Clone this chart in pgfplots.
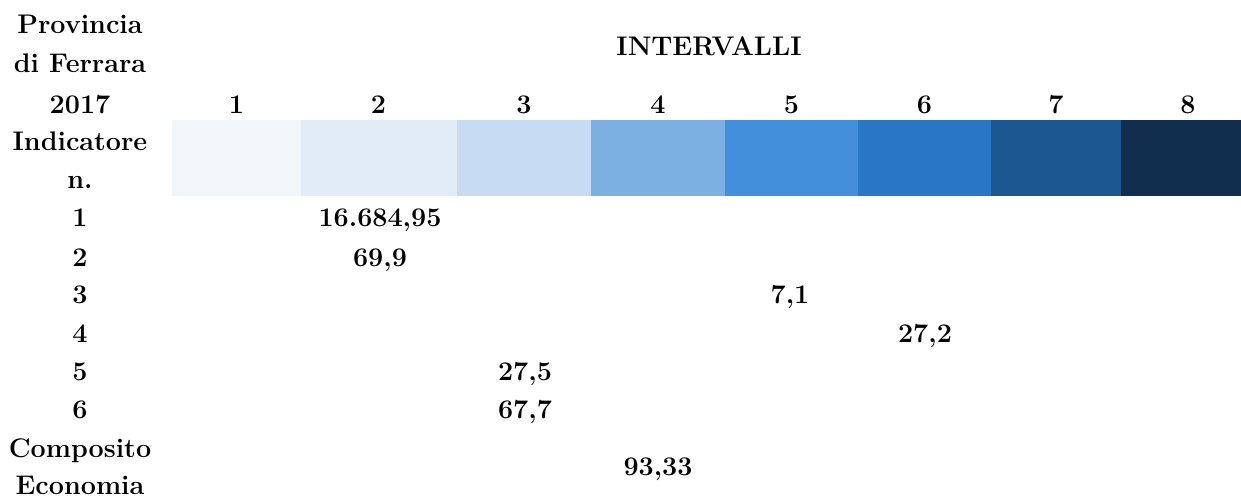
\documentclass[border=0pt]{standalone}
\usepackage{fontspec}
\usepackage{pgfplots}
\usepackage{pgfplotstable}
\pgfplotsset{compat=1.18}

\definecolor{c1}{HTML}{F1F6FB}
\definecolor{c2}{HTML}{E2ECF7}
\definecolor{c3}{HTML}{C7DCF3}
\definecolor{c4}{HTML}{7CB0E3}
\definecolor{c5}{HTML}{448FDB}
\definecolor{c6}{HTML}{2876C5}
\definecolor{c7}{HTML}{1C5791}
\definecolor{c8}{HTML}{122E4E}

% left column labels (x, baseline y, text)
\pgfplotstableread[col sep=comma]{
x,y,label
80,34,Provincia
80,73,di Ferrara
80,113,2017
80,150,Indicatore
80,188,n.
80,226,1
80,266,2
80,303,3
80,342,4
80,380,5
80,418,6
80,457,Composito
80,494,Economia
709,56,INTERVALLI
}\leftlabels

% interval numbers above the colour strip
\pgfplotstableread[col sep=comma]{
x,y,label
236.5,113,1
378.5,113,2
524,113,3
658,113,4
791.5,113,5
924.5,113,6
1056,113,7
1188,113,8
}\intervals

% values of each indicator, placed in the column of its interval
\pgfplotstableread[col sep=comma]{
x,y,label
380,226,16.684{,}95
380,266,69{,}9
790,303,7{,}1
925,342,27{,}2
525,380,27{,}5
525,418,67{,}7
658,475,93{,}33
}\values

\begin{document}
\begin{tikzpicture}
\begin{axis}[
    hide axis, scale only axis,
    width=1241bp, height=497bp,
    xmin=0, xmax=1241, ymin=0, ymax=497,
    y dir=reverse, clip=false,
    every node near coord/.append style={anchor=base, inner sep=0pt, text=black,
        font=\fontsize{27}{39}\selectfont\bfseries},
]
\addplot[draw=none, forget plot] coordinates {(0,0) (1241,497)};

\addplot[fill=c1, draw=none] coordinates {(172,120) (301,120) (301,196) (172,196)} -- cycle;
\addplot[fill=c2, draw=none] coordinates {(301,120) (457,120) (457,196) (301,196)} -- cycle;
\addplot[fill=c3, draw=none] coordinates {(457,120) (591,120) (591,196) (457,196)} -- cycle;
\addplot[fill=c4, draw=none] coordinates {(591,120) (725,120) (725,196) (591,196)} -- cycle;
\addplot[fill=c5, draw=none] coordinates {(725,120) (858,120) (858,196) (725,196)} -- cycle;
\addplot[fill=c6, draw=none] coordinates {(858,120) (991,120) (991,196) (858,196)} -- cycle;
\addplot[fill=c7, draw=none] coordinates {(991,120) (1121,120) (1121,196) (991,196)} -- cycle;
\addplot[fill=c8, draw=none] coordinates {(1121,120) (1241,120) (1241,196) (1121,196)} -- cycle;

\addplot[draw=none, mark=none, nodes near coords, point meta=explicit symbolic]
    table[x=x, y=y, meta=label] {\leftlabels};
\addplot[draw=none, mark=none, nodes near coords, point meta=explicit symbolic]
    table[x=x, y=y, meta=label] {\intervals};
\addplot[draw=none, mark=none, nodes near coords, point meta=explicit symbolic]
    table[x=x, y=y, meta=label] {\values};
\end{axis}
\end{tikzpicture}
\end{document}
